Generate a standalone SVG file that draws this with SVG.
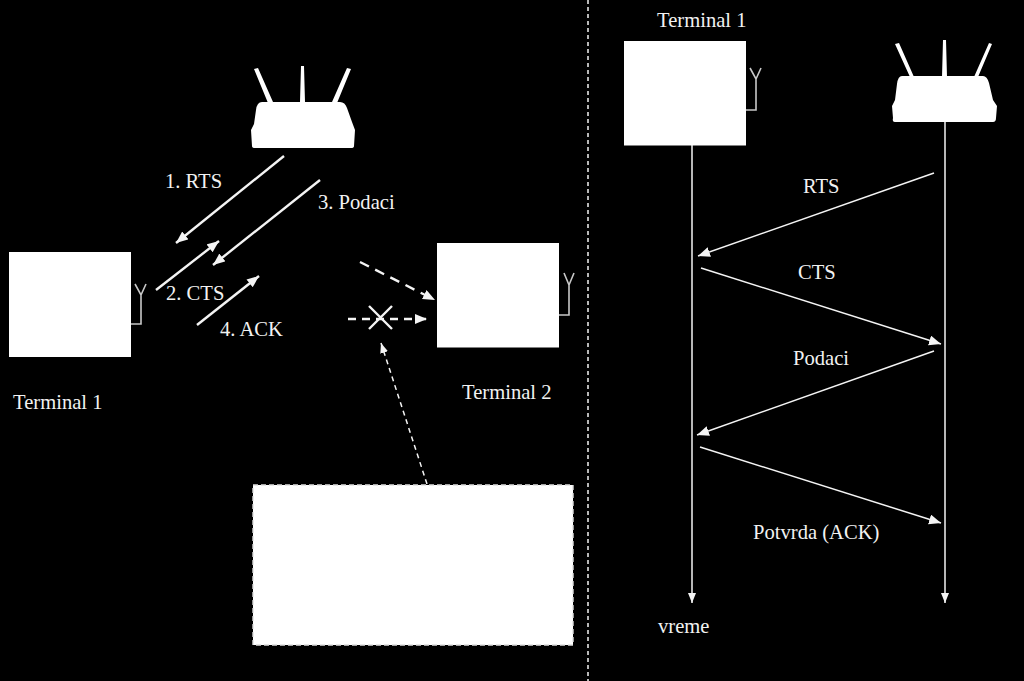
<svg xmlns="http://www.w3.org/2000/svg" width="1024" height="681" viewBox="0 0 1024 681">
<style>
text{font-family:"Liberation Serif","Times New Roman",serif;font-size:20.6px;fill:#f2f2f2}
.l{stroke:#f4f4f4;fill:none;stroke-width:2.4}
.t{stroke:#f4f4f4;fill:none;stroke-width:1.5}
.a{stroke:#c8c8c8;fill:none;stroke-width:1.6}
.w{fill:#fff}
</style>
<defs>
<marker id="h" markerUnits="userSpaceOnUse" markerWidth="14" markerHeight="12" refX="12" refY="5" orient="auto"><path d="M0 0L12 5L0 10Z" fill="#f4f4f4"/></marker>
<marker id="s" markerUnits="userSpaceOnUse" markerWidth="12" markerHeight="10" refX="10" refY="4" orient="auto"><path d="M0 0L10 4L0 8Z" fill="#f4f4f4"/></marker>
</defs>
<rect width="1024" height="681" fill="#000"/>
<g id="connectors">
<path class="l" marker-end="url(#h)" d="M284 156L176 243"/>
<path class="l" marker-end="url(#h)" d="M156 290L219 241"/>
<path class="l" marker-end="url(#h)" d="M320 180L213 265"/>
<path class="l" marker-end="url(#h)" d="M197 325L259 276"/>
<path class="l" stroke-dasharray="10 7" marker-end="url(#h)" d="M360 262L435 300"/>
<path class="l" stroke-dasharray="8 6" marker-end="url(#h)" d="M348 319L427 319"/>
<path class="l" d="M369 306L392 329M392 306L369 329"/>
<path class="t" stroke-dasharray="5 4" marker-end="url(#s)" d="M427 484L381 343"/>
<path class="t" stroke-dasharray="4 3" d="M588 0V681"/>
<path class="t" marker-end="url(#s)" d="M692 145V603"/>
<path class="t" marker-end="url(#s)" d="M945 122V603"/>
<path class="t" marker-end="url(#h)" d="M934 173L698 256"/>
<path class="t" marker-end="url(#h)" d="M701 268L941 344"/>
<path class="t" marker-end="url(#h)" d="M934 351L697 435"/>
<path class="t" marker-end="url(#h)" d="M700 447L941 523"/>
</g>
<g id="terminal-1-left">
<rect class="w" x="9" y="252" width="122" height="105"/>
<path class="a" d="M131 324H141V295M135 284L141 295L146 284"/>
</g>
<g id="terminal-2-left">
<rect class="w" x="437" y="243" width="122" height="104.500"/>
<path class="a" d="M559 315H569V285M564 273L569 285L574 273"/>
</g>
<g id="terminal-1-right">
<rect class="w" x="624" y="41" width="122" height="104.500"/>
<path class="a" d="M746 110H756V79M750 68L756 79L761 68"/>
</g>
<g id="router-left">
<path class="w" d="M254 69L258 68L273 102H300L301 66H304L305 102H332L347 68L351 69L337 103H268Z"/>
<path class="w" d="M262 102H340Q345 102 347 108L352 122L355 130L354 146Q354 148 351 148H255Q252 148 252 146L251 130L254 124L256 110Q257 102 262 102Z"/>
</g>
<g id="router-right">
<path class="w" d="M895 44L899 43L914 77H942L943 40H946L947 77H974L989 43L992 44L978 77H910Z"/>
<path class="w" d="M902 76H983Q987 76 989 83L993 100L997 106L996 118Q996 122 993 122H895Q892 122 893 118L892 106L895 100L897 84Q898 76 902 76Z"/>
</g>
<g id="interferer">
<rect class="w" x="253" y="485" width="320" height="160" stroke="#ddd" stroke-width="1.400" stroke-dasharray="5 3"/>
</g>
<g id="labels">
<text x="165" y="188">1. RTS</text>
<text x="166" y="300">2. CTS</text>
<text x="318" y="209">3. Podaci</text>
<text x="220" y="336">4. ACK</text>
<text x="13" y="409">Terminal 1</text>
<text x="462" y="399">Terminal 2</text>
<text x="657" y="27">Terminal 1</text>
<text x="803" y="193">RTS</text>
<text x="798" y="279">CTS</text>
<text x="793" y="365">Podaci</text>
<text x="753" y="539">Potvrda (ACK)</text>
<text x="658" y="633">vreme</text>
</g>
</svg>
